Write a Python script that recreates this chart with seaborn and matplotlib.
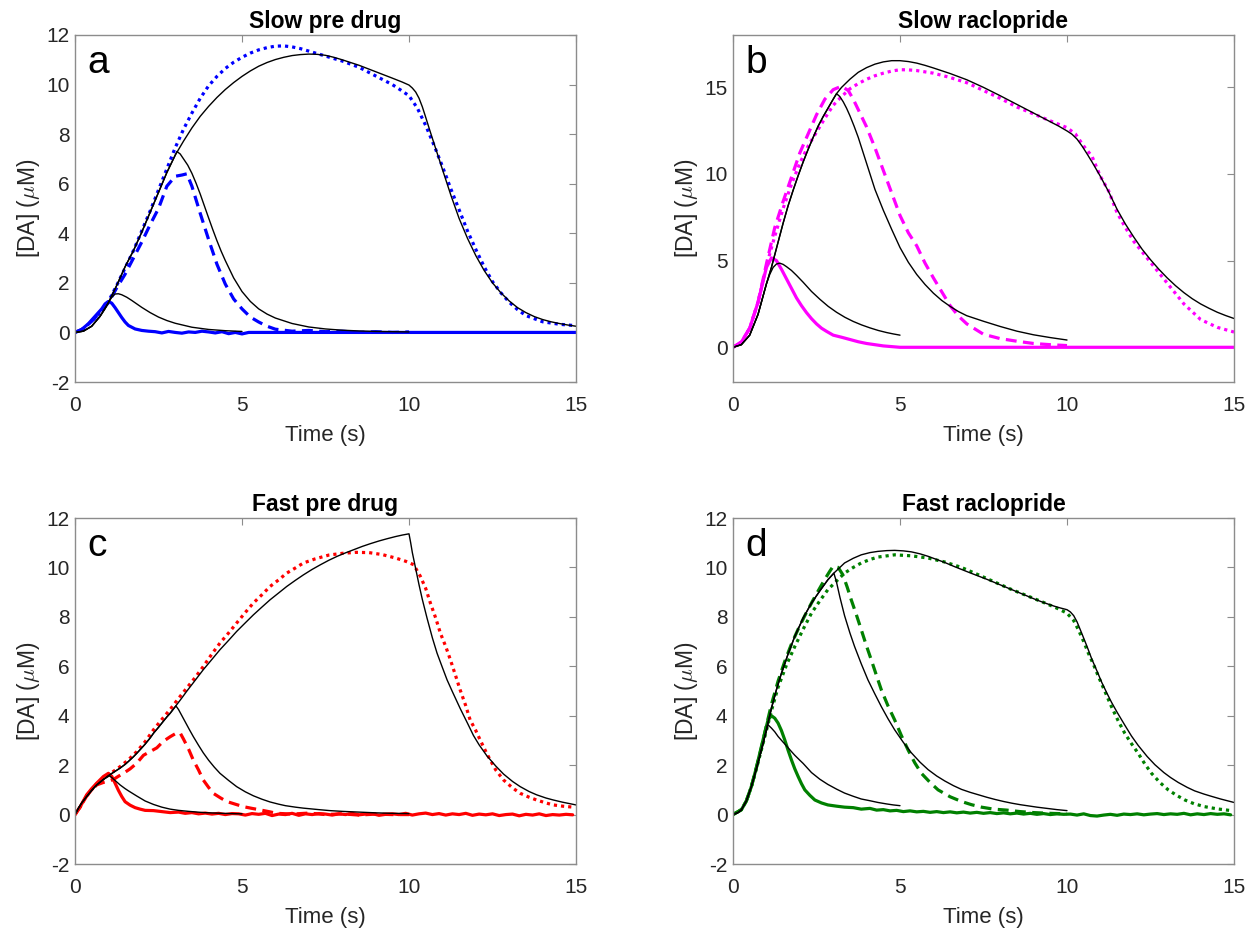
import numpy as np
import pandas as pd
import matplotlib
matplotlib.use("Agg")
import matplotlib.pyplot as plt
import seaborn as sns

# ---------------- Panel a: slow uptake, pre drug ----------------
a_fit1_t = [0, 0.25, 0.5, 0.75, 0.9, 1.0, 1.1, 1.2, 1.3, 1.4, 1.55, 1.7, 1.85, 2.0, 2.25,
            2.5, 2.75, 3.0, 3.5, 4.0, 4.5, 5.0]
a_fit1_y = [0, 0.05, 0.25, 0.65, 0.95, 1.2, 1.42, 1.55, 1.56, 1.52, 1.42, 1.29, 1.15, 1.01,
            0.8, 0.62, 0.48, 0.37, 0.21, 0.12, 0.07, 0.04]

a_fit3_rise_t = [0, 0.25, 0.5, 0.75, 1.0, 1.25, 1.5, 1.75, 2.0, 2.25, 2.5, 2.75, 3.0]
a_fit3_rise_y = [0, 0.05, 0.25, 0.65, 1.2, 1.9, 2.65, 3.3, 4.05, 4.85, 5.65, 6.45, 7.15]

a_fit2_t = a_fit3_rise_t + [3.05, 3.15, 3.25, 3.375, 3.5, 3.625, 3.75, 3.875, 4.0, 4.125,
                            4.25, 4.375, 4.5, 4.75, 5.0, 5.25, 5.5, 5.75, 6.0, 6.5, 7.0,
                            7.5, 8.0, 8.5, 9.0, 10.0]
a_fit2_y = a_fit3_rise_y + [7.3, 7.2, 7.0, 6.75, 6.42, 6.02, 5.58, 5.1, 4.62, 4.15, 3.7,
                            3.28, 2.9, 2.2, 1.65, 1.25, 0.95, 0.74, 0.58, 0.36, 0.22, 0.14,
                            0.09, 0.06, 0.04, 0.02]

a_fit3_t = a_fit3_rise_t + [3.25, 3.5, 3.75, 4.0, 4.25, 4.5, 4.75, 5.0, 5.25, 5.5, 5.75,
                            6.0, 6.25, 6.5, 6.75, 7.0, 7.25, 7.5, 7.75, 8.0, 8.5, 9.0, 9.5,
                            9.8, 10.0, 10.1, 10.2, 10.3, 10.4, 10.5, 10.6, 10.75, 10.9,
                            11.0, 11.25, 11.5, 11.75, 12.0, 12.25, 12.5, 12.75, 13.0,
                            13.25, 13.5, 13.75, 14.0, 14.25, 14.5, 14.75, 15.0]
a_fit3_y = a_fit3_rise_y + [7.72, 8.25, 8.72, 9.12, 9.48, 9.8, 10.08, 10.33, 10.55, 10.74,
                            10.89, 11.01, 11.1, 11.17, 11.21, 11.23, 11.22, 11.18, 11.1,
                            11.0, 10.78, 10.52, 10.26, 10.1, 9.98, 9.86, 9.7, 9.45, 9.1,
                            8.68, 8.25, 7.62, 7.0, 6.58, 5.55, 4.6, 3.8, 3.1, 2.5, 2.0,
                            1.6, 1.27, 1.0, 0.8, 0.64, 0.52, 0.43, 0.36, 0.3, 0.25]

a_long_t = [0, 0.25, 0.5, 0.75, 1.0, 1.25, 1.5, 1.75, 2.0, 2.25, 2.5, 2.75, 3.0, 3.25, 3.5,
            3.75, 4.0, 4.25, 4.5, 4.75, 5.0, 5.25, 5.5, 5.75, 6.0, 6.25, 6.5, 6.75, 7.0,
            7.5, 8.0, 8.5, 9.0, 9.5, 9.75, 10.0, 10.25, 10.5, 10.75, 11.0, 11.25, 11.5,
            11.75, 12.0, 12.25, 12.5, 12.75, 13.0, 13.25, 13.5, 14.0, 14.5, 15.0]
a_long_y = [0, 0.15, 0.45, 0.8, 1.25, 1.9, 2.6, 3.3, 4.1, 4.9, 5.75, 6.6, 7.45, 8.2, 8.85,
            9.45, 9.95, 10.33, 10.65, 10.9, 11.1, 11.27, 11.4, 11.49, 11.55, 11.56, 11.52,
            11.45, 11.35, 11.15, 10.95, 10.7, 10.35, 10.0, 9.78, 9.55, 9.05, 8.35, 7.55,
            6.7, 5.8, 4.95, 4.1, 3.35, 2.65, 2.05, 1.6, 1.22, 0.92, 0.68, 0.43, 0.33, 0.27]

a_mid_t = [0, 0.25, 0.5, 0.75, 1.0, 1.25, 1.5, 1.75, 2.0, 2.25, 2.5, 2.75, 3.0, 3.2, 3.35,
           3.5, 3.75, 4.0, 4.25, 4.5, 4.75, 5.0, 5.25, 5.5, 5.75, 6.0, 6.5, 7.0, 7.5, 8.0,
           8.5, 9.0, 9.5, 10.0]
a_mid_y = [0, 0.15, 0.45, 0.8, 1.2, 1.8, 2.35, 3.0, 3.65, 4.35, 5.0, 5.9, 6.3, 6.35, 6.4,
           5.9, 4.8, 3.75, 2.75, 1.95, 1.35, 0.95, 0.62, 0.42, 0.25, 0.13, 0.05, 0.08, 0.03,
           0.05, 0.0, 0.03, 0.0, 0.02]

a_short_t = [0, 0.2, 0.4, 0.6, 0.8, 0.9, 1.0, 1.1, 1.2, 1.3, 1.4, 1.5, 1.6, 1.8, 2.0, 2.2,
             2.4, 2.6, 2.8, 3.0, 3.2, 3.4, 3.6, 3.8, 4.0, 4.2, 4.4, 4.6, 4.8, 5.0, 5.2, 15.0]
a_short_y = [0, 0.12, 0.35, 0.65, 0.95, 1.15, 1.25, 1.18, 1.0, 0.8, 0.6, 0.42, 0.28, 0.14,
             0.08, 0.05, 0.03, -0.02, 0.04, 0.0, -0.03, 0.02, 0.0, 0.05, 0.02, -0.02, 0.03,
             -0.05, 0.0, -0.06, 0.0, 0.0]

# ---------------- Panel b: slow uptake, raclopride ----------------
b_fit1_t = [0, 0.25, 0.5, 0.75, 1.0, 1.1, 1.2, 1.3, 1.4, 1.5, 1.6, 1.75, 1.9, 2.1, 2.35,
            2.6, 2.85, 3.1, 3.35, 3.6, 3.85, 4.1, 4.35, 4.6, 4.8, 5.0]
b_fit1_y = [0, 0.15, 0.7, 1.9, 3.65, 4.2, 4.6, 4.8, 4.85, 4.78, 4.65, 4.43, 4.15, 3.75,
            3.22, 2.77, 2.36, 2.02, 1.73, 1.49, 1.29, 1.12, 0.97, 0.85, 0.77, 0.7]

b_fit3_rise_t = [0, 0.25, 0.5, 0.75, 1.0, 1.15, 1.35, 1.5, 1.65, 1.8, 1.95, 2.1, 2.25, 2.4,
                 2.55, 2.7, 2.85, 3.0, 3.1]
b_fit3_rise_y = [0, 0.15, 0.7, 1.9, 3.65, 4.6, 6.06, 7.15, 8.16, 9.05, 9.89, 10.68, 11.41,
                 12.1, 12.75, 13.3, 13.8, 14.3, 14.62]

b_fit2_t = b_fit3_rise_t + [3.2, 3.3, 3.4, 3.5, 3.625, 3.75, 3.875, 4.0, 4.125, 4.25, 4.5,
                            4.75, 5.0, 5.25, 5.5, 5.75, 6.0, 6.25, 6.5, 6.75, 7.0, 7.5, 8.0,
                            8.5, 9.0, 9.5, 10.0]
b_fit2_y = b_fit3_rise_y + [14.45, 14.15, 13.78, 13.35, 12.75, 12.1, 11.35, 10.6, 9.85,
                            9.1, 7.9, 6.8, 5.75, 4.9, 4.2, 3.62, 3.12, 2.7, 2.36, 2.06,
                            1.82, 1.5, 1.2, 0.93, 0.72, 0.56, 0.42]

b_fit3_t = b_fit3_rise_t + [3.25, 3.5, 3.75, 4.0, 4.25, 4.5, 4.75, 5.0, 5.25, 5.5, 5.75,
                            6.0, 6.5, 7.0, 7.5, 8.0, 8.5, 9.0, 9.5, 9.75, 10.0, 10.15, 10.3,
                            10.45, 10.6, 10.75, 11.0, 11.25, 11.5, 11.75, 12.0, 12.25, 12.5,
                            12.75, 13.0, 13.25, 13.5, 13.75, 14.0, 14.25, 14.5, 14.75, 15.0]
b_fit3_y = b_fit3_rise_y + [14.98, 15.45, 15.85, 16.12, 16.32, 16.45, 16.52, 16.52, 16.47,
                            16.38, 16.25, 16.1, 15.78, 15.42, 14.98, 14.5, 14.0, 13.5, 13.0,
                            12.75, 12.47, 12.28, 12.0, 11.6, 11.15, 10.68, 9.85, 8.95, 7.95,
                            7.1, 6.35, 5.65, 5.05, 4.5, 4.0, 3.55, 3.15, 2.8, 2.5, 2.25,
                            2.02, 1.83, 1.66]

b_long_t = [0, 0.25, 0.5, 0.75, 1.0, 1.25, 1.5, 1.75, 2.0, 2.25, 2.5, 2.75, 3.0, 3.25, 3.5,
            3.75, 4.0, 4.25, 4.5, 4.75, 5.0, 5.25, 5.5, 6.0, 6.5, 7.0, 7.5, 8.0, 8.5, 9.0,
            9.5, 10.0, 10.25, 10.5, 10.75, 11.0, 11.25, 11.5, 11.75, 12.0, 12.5, 13.0, 13.5,
            14.0, 14.5, 15.0]
b_long_y = [0, 0.3, 1.1, 2.6, 4.7, 6.4, 8.0, 9.4, 10.6, 11.6, 12.4, 13.2, 13.95, 14.45,
            14.9, 15.2, 15.45, 15.65, 15.8, 15.92, 16.0, 15.99, 15.95, 15.8, 15.55, 15.25,
            14.8, 14.35, 13.85, 13.45, 13.05, 12.66, 12.3, 11.6, 11.0, 9.85, 9.0, 7.75, 6.9,
            6.1, 4.9, 3.7, 2.5, 1.6, 1.15, 0.88]

b_mid_t = [0, 0.25, 0.5, 0.75, 1.0, 1.25, 1.5, 1.75, 2.0, 2.25, 2.5, 2.75, 3.0, 3.25, 3.45,
           3.6, 3.8, 4.0, 4.25, 4.5, 4.75, 5.0, 5.25, 5.5, 5.75, 6.0, 6.25, 6.5, 6.75, 7.0,
           7.5, 8.0, 8.5, 9.0, 9.5, 10.0]
b_mid_y = [0, 0.3, 1.1, 2.6, 4.8, 6.9, 8.4, 9.8, 11.2, 12.3, 13.4, 14.3, 14.85, 15.05, 14.8,
           14.3, 13.5, 12.7, 11.5, 10.2, 8.9, 7.6, 6.6, 5.85, 4.85, 4.0, 3.2, 2.4, 1.8, 1.35,
           0.75, 0.5, 0.35, 0.22, 0.15, 0.1]

b_short_t = [0, 0.25, 0.5, 0.75, 1.0, 1.15, 1.3, 1.45, 1.6, 1.75, 1.9, 2.05, 2.2, 2.35, 2.5,
             2.65, 2.8, 3.0, 3.25, 3.5, 3.75, 4.0, 4.25, 4.5, 4.75, 5.0, 15.0]
b_short_y = [0, 0.3, 1.1, 2.6, 4.6, 5.15, 5.0, 4.5, 3.95, 3.4, 2.85, 2.4, 2.0, 1.65, 1.35,
             1.1, 0.92, 0.7, 0.58, 0.45, 0.32, 0.22, 0.15, 0.08, 0.04, 0.0, 0.0]

# ---------------- Panel c: fast uptake, pre drug ----------------
c_fit1_t = [0, 0.1, 0.2, 0.35, 0.5, 0.65, 0.85, 1.03, 1.1, 1.2, 1.35, 1.5, 1.6, 1.85, 2.1,
            2.35, 2.6, 2.85, 3.1, 3.4, 3.85, 4.4, 5.0]
c_fit1_y = [0, 0.25, 0.47, 0.73, 0.98, 1.2, 1.42, 1.57, 1.5, 1.38, 1.2, 1.05, 0.96, 0.75,
            0.55, 0.41, 0.3, 0.22, 0.17, 0.13, 0.08, 0.05, 0.03]

c_fit3_rise_t = [0, 0.1, 0.2, 0.35, 0.5, 0.65, 0.85, 1.03, 1.2, 1.35, 1.5, 1.6, 1.75, 1.85,
                 2.0, 2.1, 2.25, 2.35, 2.5, 2.6, 2.75, 2.85, 3.02]
c_fit3_rise_y = [0, 0.25, 0.47, 0.73, 0.98, 1.2, 1.42, 1.6, 1.75, 1.88, 2.03, 2.15, 2.34,
                 2.48, 2.7, 2.85, 3.1, 3.29, 3.53, 3.7, 3.95, 4.1, 4.4]

c_fit2_t = c_fit3_rise_t + [3.1, 3.2, 3.3, 3.42, 3.54, 3.7, 3.84, 4.0, 4.17, 4.34, 4.6,
                            4.84, 5.1, 5.34, 5.6, 5.84, 6.1, 6.3, 6.6, 6.84, 7.3, 7.63, 8.0,
                            8.5, 9.0, 9.5, 10.0]
c_fit2_y = c_fit3_rise_y + [4.25, 4.0, 3.75, 3.45, 3.16, 2.8, 2.5, 2.2, 1.92, 1.67, 1.38,
                            1.13, 0.92, 0.76, 0.62, 0.51, 0.42, 0.36, 0.3, 0.26, 0.2, 0.16,
                            0.13, 0.1, 0.07, 0.05, 0.04]

c_fit3_t = c_fit3_rise_t + [3.2, 3.34, 3.5, 3.84, 4.1, 4.34, 4.6, 4.84, 5.1, 5.34, 5.6,
                            5.84, 6.1, 6.34, 6.6, 6.84, 7.1, 7.35, 7.6, 7.85, 8.1, 8.35, 8.6,
                            8.84, 9.1, 9.34, 9.6, 9.8, 10.0, 10.05, 10.1, 10.2, 10.3, 10.4,
                            10.54, 10.7, 10.84, 11.0, 11.14, 11.3, 11.53, 11.75, 11.93, 12.1,
                            12.33, 12.6, 12.83, 13.1, 13.33, 13.6, 13.82, 14.1, 14.32, 14.6,
                            15.0]
c_fit3_y = c_fit3_rise_y + [4.72, 4.98, 5.26, 5.86, 6.28, 6.67, 7.05, 7.41, 7.76, 8.08,
                            8.4, 8.69, 8.97, 9.23, 9.48, 9.7, 9.92, 10.11, 10.29, 10.45,
                            10.59, 10.72, 10.85, 10.96, 11.07, 11.16, 11.25, 11.31, 11.36,
                            11.0, 10.6, 9.95, 9.3, 8.7, 7.95, 7.15, 6.53, 5.95, 5.45, 4.97,
                            4.3, 3.7, 3.2, 2.82, 2.38, 1.96, 1.64, 1.34, 1.13, 0.93, 0.8,
                            0.67, 0.59, 0.5, 0.39]

c_long_t = [0, 0.15, 0.35, 0.5, 0.65, 0.85, 1.0, 1.35, 1.6, 1.85, 2.1, 2.35, 2.6, 2.84,
            3.1, 3.34, 3.6, 3.84, 4.1, 4.34, 4.6, 4.84, 5.1, 5.34, 5.6, 5.84, 6.1, 6.34,
            6.6, 6.84, 7.2, 7.6, 8.0, 8.4, 8.8, 9.2, 9.6, 9.9, 10.14, 10.34, 10.5, 10.64,
            10.8, 10.94, 11.1, 11.24, 11.4, 11.53, 11.7, 11.83, 12.0, 12.13, 12.3, 12.43,
            12.6, 12.83, 13.1, 13.33, 13.6, 13.82, 14.1, 14.32, 14.6, 14.92]
c_long_y = [0, 0.3, 0.75, 1.0, 1.25, 1.45, 1.6, 1.94, 2.22, 2.55, 2.95, 3.43, 3.85, 4.24,
            4.7, 5.11, 5.55, 5.99, 6.5, 6.94, 7.35, 7.75, 8.18, 8.56, 8.9, 9.23, 9.5, 9.77,
            9.98, 10.18, 10.35, 10.5, 10.57, 10.61, 10.6, 10.52, 10.38, 10.25, 10.11, 9.64,
            9.15, 8.56, 7.95, 7.34, 6.8, 6.26, 5.6, 5.05, 4.4, 3.83, 3.4, 3.02, 2.55, 2.21,
            1.8, 1.4, 1.08, 0.86, 0.7, 0.59, 0.47, 0.39, 0.34, 0.3]

c_mid_t = [0, 0.15, 0.35, 0.5, 0.65, 0.85, 1.0, 1.15, 1.3, 1.45, 1.65, 1.85, 2.05, 2.25,
           2.45, 2.64, 2.85, 3.04, 3.15, 3.25, 3.4, 3.54, 3.7, 3.84, 4.0, 4.14, 4.35, 4.54,
           4.8, 5.04, 5.3, 5.54, 5.8, 6.04, 6.5, 7.0, 7.5, 8.0, 8.5, 9.0, 9.5, 10.0]
c_mid_y = [0, 0.3, 0.75, 1.0, 1.2, 1.3, 1.35, 1.42, 1.55, 1.67, 1.85, 2.08, 2.4, 2.55,
           2.7, 2.96, 3.15, 3.3, 3.3, 3.05, 2.65, 2.21, 1.8, 1.4, 1.1, 0.86, 0.68, 0.53,
           0.42, 0.32, 0.25, 0.19, 0.12, 0.05, 0.02, 0.06, 0.0, 0.03, -0.02, 0.02, 0.0, 0.0]

c_short_t = [0, 0.15, 0.35, 0.5, 0.65, 0.85, 1.0, 1.1, 1.2, 1.3, 1.4, 1.5, 1.65, 1.8,
             1.95, 2.1, 2.35, 2.6, 2.85, 3.1, 3.3, 3.5, 3.7, 3.9, 4.1, 4.3, 4.5, 4.7, 4.9,
             5.1, 5.3, 5.5, 5.7, 5.9, 6.1, 6.3, 6.5, 6.7, 6.9, 7.1, 7.3, 7.5, 7.7, 7.9, 8.1,
             8.3, 8.5, 8.7, 8.9, 9.1, 9.3, 9.5, 9.7, 9.9, 10.1, 10.3, 10.5, 10.7, 10.9,
             11.1, 11.3, 11.5, 11.7, 11.9, 12.1, 12.3, 12.5, 12.7, 12.9, 13.1, 13.3, 13.5,
             13.7, 13.9, 14.1, 14.3, 14.5, 14.7, 14.9]
c_short_y = [0, 0.3, 0.8, 1.05, 1.27, 1.54, 1.67, 1.55, 1.27, 0.98, 0.73, 0.52, 0.38,
             0.28, 0.22, 0.17, 0.16, 0.12, 0.08, 0.1, 0.05, 0.08, 0.03, 0.06, 0.02, 0.05,
             0.0, 0.04, 0.03, -0.02, 0.04, 0.01, 0.05, -0.04, 0.02, 0.0, 0.05, -0.03, 0.03,
             0.0, 0.04, 0.02, -0.02, 0.03, 0.0, 0.05, -0.01, 0.02, 0.04, -0.03, 0.01, 0.03,
             0.0, 0.05, -0.02, 0.03, 0.06, 0.0, 0.04, -0.02, 0.03, 0.0, 0.05, -0.03, 0.02,
             -0.01, 0.03, -0.04, 0.0, 0.02, -0.05, 0.01, -0.02, 0.03, -0.04, 0.0, -0.02,
             0.01, -0.01]

# ---------------- Panel d: fast uptake, raclopride ----------------
d_fit1_t = [0, 0.15, 0.25, 0.4, 0.55, 0.7, 0.85, 0.95, 1.05, 1.15, 1.25, 1.35, 1.5, 1.6,
            1.75, 1.85, 2.0, 2.1, 2.35, 2.6, 2.84, 3.1, 3.34, 3.6, 3.84, 4.1, 4.34, 4.6,
            4.8, 5.0]
d_fit1_y = [0, 0.08, 0.19, 0.55, 1.13, 1.85, 2.62, 3.15, 3.63, 3.5, 3.35, 3.16, 2.93, 2.78,
            2.55, 2.4, 2.2, 2.07, 1.7, 1.43, 1.22, 1.03, 0.87, 0.74, 0.63, 0.56, 0.49, 0.43,
            0.39, 0.36]

d_fit3_rise_t = [0, 0.15, 0.25, 0.4, 0.55, 0.7, 0.85, 0.95, 1.05, 1.15, 1.3, 1.45, 1.65,
                 1.85, 2.1, 2.35, 2.6, 2.84, 3.02]
d_fit3_rise_y = [0, 0.08, 0.19, 0.55, 1.13, 1.85, 2.62, 3.15, 3.72, 4.3, 5.05, 5.72, 6.5,
                 7.21, 7.95, 8.56, 9.05, 9.5, 9.77]

d_fit2_t = d_fit3_rise_t + [3.1, 3.2, 3.34, 3.5, 3.64, 3.84, 4.04, 4.24, 4.44, 4.64, 4.84,
                            5.1, 5.34, 5.6, 5.84, 6.1, 6.34, 6.6, 6.84, 7.1, 7.35, 7.6,
                            7.85, 8.1, 8.35, 8.6, 8.85, 9.1, 9.34, 9.7, 10.0]
d_fit2_y = d_fit3_rise_y + [9.4, 8.8, 8.05, 7.35, 6.8, 6.1, 5.45, 4.9, 4.37, 3.88, 3.43,
                            2.92, 2.5, 2.12, 1.82, 1.56, 1.36, 1.17, 1.02, 0.9, 0.8, 0.7,
                            0.61, 0.53, 0.46, 0.4, 0.35, 0.3, 0.26, 0.2, 0.16]

d_fit3_t = d_fit3_rise_t + [3.2, 3.34, 3.6, 3.84, 4.1, 4.34, 4.6, 4.84, 5.1, 5.34, 5.6,
                            5.84, 6.1, 6.34, 6.6, 6.84, 7.1, 7.35, 7.6, 7.85, 8.1, 8.35, 8.6,
                            8.85, 9.1, 9.34, 9.6, 9.8, 10.0, 10.1, 10.2, 10.3, 10.44, 10.6,
                            10.74, 10.9, 11.04, 11.2, 11.33, 11.5, 11.73, 11.93, 12.13,
                            12.4, 12.63, 12.9, 13.1, 13.33, 13.6, 13.82, 14.1, 14.32, 14.6,
                            15.0]
d_fit3_y = d_fit3_rise_y + [10.0, 10.18, 10.37, 10.51, 10.6, 10.65, 10.68, 10.69, 10.67,
                            10.63, 10.55, 10.45, 10.32, 10.2, 10.05, 9.92, 9.78, 9.65, 9.52,
                            9.38, 9.24, 9.1, 8.96, 8.82, 8.68, 8.56, 8.44, 8.36, 8.29, 8.2,
                            8.05, 7.8, 7.34, 6.8, 6.3, 5.8, 5.35, 4.9, 4.55, 4.14, 3.62,
                            3.18, 2.8, 2.35, 2.02, 1.7, 1.5, 1.3, 1.1, 0.96, 0.83, 0.74,
                            0.63, 0.49]

d_long_t = [0, 0.25, 0.4, 0.55, 0.7, 0.85, 1.0, 1.15, 1.35, 1.6, 1.85, 2.1, 2.35, 2.6,
            2.84, 3.1, 3.34, 3.6, 3.84, 4.1, 4.34, 4.84, 5.34, 5.84, 6.34, 6.84, 7.35, 7.85,
            8.35, 8.85, 9.34, 9.7, 10.0, 10.2, 10.34, 10.5, 10.64, 10.8, 10.94, 11.13,
            11.33, 11.53, 11.73, 11.93, 12.13, 12.33, 12.53, 12.78, 13.03, 13.28, 13.53,
            13.8, 14.12, 14.5, 14.92]
d_long_y = [0, 0.2, 0.55, 1.13, 1.85, 2.62, 3.4, 4.2, 5.15, 6.05, 6.8, 7.5, 8.15, 8.65,
            9.1, 9.45, 9.77, 10.0, 10.18, 10.32, 10.42, 10.51, 10.47, 10.38, 10.22, 10.0,
            9.7, 9.4, 9.1, 8.83, 8.56, 8.35, 8.15, 7.85, 7.48, 7.0, 6.53, 6.05, 5.59, 5.0,
            4.37, 3.8, 3.29, 2.87, 2.48, 2.05, 1.67, 1.3, 1.0, 0.78, 0.59, 0.44, 0.32, 0.23,
            0.16]

d_mid_t = [0, 0.25, 0.4, 0.55, 0.7, 0.85, 1.0, 1.15, 1.35, 1.55, 1.75, 1.95, 2.15, 2.35,
           2.55, 2.74, 2.9, 3.0, 3.15, 3.29, 3.42, 3.54, 3.69, 3.84, 3.99, 4.14, 4.29, 4.44,
           4.64, 4.84, 5.04, 5.24, 5.44, 5.64, 5.9, 6.14, 6.5, 6.84, 7.14, 7.44, 7.8, 8.2,
           8.6, 9.0, 9.5, 10.0]
d_mid_y = [0, 0.2, 0.55, 1.13, 1.9, 2.7, 3.6, 4.45, 5.4, 6.2, 6.9, 7.5, 8.05, 8.56, 9.05,
           9.5, 9.85, 10.05, 10.0, 9.7, 9.2, 8.69, 8.1, 7.48, 6.85, 6.26, 5.65, 5.05, 4.4,
           3.83, 3.2, 2.62, 2.1, 1.67, 1.3, 1.0, 0.72, 0.53, 0.4, 0.3, 0.22, 0.18, 0.12,
           0.08, 0.05, 0.03]

d_short_t = [0, 0.25, 0.4, 0.55, 0.7, 0.85, 0.95, 1.05, 1.15, 1.25, 1.35, 1.45, 1.55, 1.65,
             1.75, 1.85, 1.95, 2.05, 2.15, 2.3, 2.45, 2.65, 2.84, 3.1, 3.34, 3.6, 3.84, 4.1,
             4.3, 4.5, 4.7, 4.9, 5.1, 5.3, 5.5, 5.7, 5.9, 6.1, 6.3, 6.5, 6.7, 6.9, 7.1, 7.3,
             7.5, 7.7, 7.9, 8.1, 8.3, 8.5, 8.7, 8.9, 9.1, 9.3, 9.5, 9.7, 9.9, 10.1, 10.3,
             10.5, 10.7, 10.9, 11.1, 11.3, 11.5, 11.7, 11.9, 12.1, 12.3, 12.5, 12.7, 12.9,
             13.1, 13.3, 13.5, 13.7, 13.9, 14.1, 14.3, 14.5, 14.7, 14.9]
d_short_y = [0, 0.19, 0.55, 1.13, 1.9, 2.75, 3.3, 3.83, 4.0, 3.9, 3.7, 3.4, 3.02, 2.6,
             2.21, 1.85, 1.54, 1.25, 1.0, 0.78, 0.59, 0.47, 0.39, 0.34, 0.3, 0.28, 0.22,
             0.25, 0.18, 0.2, 0.15, 0.17, 0.12, 0.15, 0.11, 0.13, 0.09, 0.12, 0.08, 0.11,
             0.07, 0.1, 0.06, 0.09, 0.05, 0.08, 0.04, 0.07, 0.03, 0.06, 0.02, 0.05, 0.01,
             0.04, 0.0, 0.03, 0.01, 0.02, -0.02, 0.03, -0.04, -0.06, -0.02, 0.01, -0.03,
             0.02, 0.0, 0.03, -0.01, 0.02, 0.04, 0.0, 0.03, 0.01, 0.05, -0.01, 0.03, 0.0,
             0.04, 0.01, 0.03, -0.01]

# ---------------- layout & labels ----------------
panel_titles = ["Slow pre drug", "Slow raclopride", "Fast pre drug", "Fast raclopride"]
panel_letters = ["a", "b", "c", "d"]
panel_colors = ["#0000ff", "#ff00ff", "#ff0000", "#008000"]
panel_ylims = [(-2, 12), (-2, 18), (-2, 12), (-2, 12)]
panel_yticks = [[-2, 0, 2, 4, 6, 8, 10, 12], [0, 5, 10, 15],
                [-2, 0, 2, 4, 6, 8, 10, 12], [-2, 0, 2, 4, 6, 8, 10, 12]]
x_ticks = [0, 5, 10, 15]

panels = [
    dict(fits=[(a_fit1_t, a_fit1_y), (a_fit2_t, a_fit2_y), (a_fit3_t, a_fit3_y)],
         short=(a_short_t, a_short_y), mid=(a_mid_t, a_mid_y), long=(a_long_t, a_long_y)),
    dict(fits=[(b_fit1_t, b_fit1_y), (b_fit2_t, b_fit2_y), (b_fit3_t, b_fit3_y)],
         short=(b_short_t, b_short_y), mid=(b_mid_t, b_mid_y), long=(b_long_t, b_long_y)),
    dict(fits=[(c_fit1_t, c_fit1_y), (c_fit2_t, c_fit2_y), (c_fit3_t, c_fit3_y)],
         short=(c_short_t, c_short_y), mid=(c_mid_t, c_mid_y), long=(c_long_t, c_long_y)),
    dict(fits=[(d_fit1_t, d_fit1_y), (d_fit2_t, d_fit2_y), (d_fit3_t, d_fit3_y)],
         short=(d_short_t, d_short_y), mid=(d_mid_t, d_mid_y), long=(d_long_t, d_long_y)),
]

sns.set_style("white", {"xtick.direction": "in", "ytick.direction": "in"})
plt.rcParams["font.family"] = ["Liberation Sans", "DejaVu Sans"]
plt.rcParams["mathtext.fontset"] = "cm"
plt.rcParams["axes.unicode_minus"] = False

fig = plt.figure(figsize=(12.57, 9.36), dpi=100)
W, H = 1257.0, 936.0
boxes = [(75, 35, 576, 382), (733, 35, 1234, 382),
         (75, 518, 576, 864), (733, 518, 1234, 864)]

axis_grey = "#262626"
frame_grey = "#8c8c8c"

for i, (x0, y0, x1, y1) in enumerate(boxes):
    ax = fig.add_axes([x0 / W, 1 - y1 / H, (x1 - x0) / W, (y1 - y0) / H])
    p = panels[i]
    col = panel_colors[i]

    # recorded traces: 10 s (dotted), 3 s (dashed), 1 s (solid)
    t, y = p["long"]
    sns.lineplot(x=t, y=y, ax=ax, color=col, linewidth=2.3,
                 linestyle=(0, (1.0, 1.25)), sort=False, estimator=None)
    t, y = p["mid"]
    sns.lineplot(x=t, y=y, ax=ax, color=col, linewidth=2.3,
                 linestyle=(0, (3.4, 2.0)), sort=False, estimator=None)
    t, y = p["short"]
    sns.lineplot(x=t, y=y, ax=ax, color=col, linewidth=2.3,
                 sort=False, estimator=None)
    # model fits
    for t, y in p["fits"]:
        sns.lineplot(x=t, y=y, ax=ax, color="black", linewidth=1.0,
                     sort=False, estimator=None)

    ax.set_xlim(0, 15)
    ax.set_ylim(*panel_ylims[i])
    ax.set_xticks(x_ticks)
    ax.set_yticks(panel_yticks[i])
    ax.set_xticklabels([str(v) for v in x_ticks])
    ax.set_yticklabels([str(v) for v in panel_yticks[i]])
    ax.tick_params(axis="both", which="both", direction="in", length=5, width=0.8,
                   color=frame_grey, labelcolor=axis_grey, labelsize=15,
                   top=True, right=True)
    ax.tick_params(axis="x", pad=10)
    ax.tick_params(axis="y", pad=4)
    for s in ax.spines.values():
        s.set_visible(True)
        s.set_color(frame_grey)
        s.set_linewidth(1.0)

    ax.set_xlabel("Time (s)", fontsize=16, color=axis_grey, labelpad=7)
    ax.set_ylabel(r"[DA] ($\mu$M)", fontsize=16.5, color=axis_grey, labelpad=3)
    ax.set_title(panel_titles[i], fontsize=16.5, fontweight="bold", color="black", pad=5)
    ax.text(0.025, 0.92, panel_letters[i], transform=ax.transAxes, fontsize=28,
            ha="left", va="center", color="black")

fig.savefig("out.png", dpi=100)
